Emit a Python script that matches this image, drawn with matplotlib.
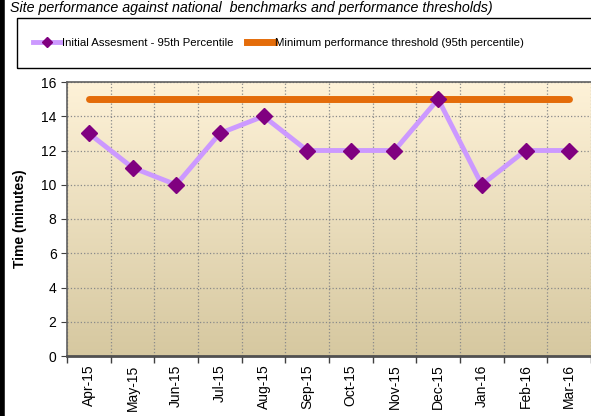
import matplotlib
matplotlib.use("Agg")
import matplotlib.pyplot as plt
import numpy as np
from matplotlib.patches import Rectangle
from matplotlib.lines import Line2D

plt.rcParams["font.family"] = ["Liberation Sans", "DejaVu Sans"]

months = ["Apr-15", "May-15", "Jun-15", "Jul-15", "Aug-15", "Sep-15",
          "Oct-15", "Nov-15", "Dec-15", "Jan-16", "Feb-16", "Mar-16"]
initial_assessment = [13, 11, 10, 13, 14, 12, 12, 12, 15, 10, 12, 12]
threshold = [15] * 12

fig = plt.figure(figsize=(5.91, 4.16), dpi=100)
ax = fig.add_axes([67 / 591, 60 / 416, 524 / 591, 274 / 416])

x = np.arange(len(months))

# gradient background
grad = np.linspace(0, 1, 256).reshape(-1, 1)
top = np.array([254, 242, 216]) / 255
bot = np.array([214, 200, 160]) / 255
img = top + (bot - top) * grad[:, :, None] * np.ones((1, 1, 3))
ax.imshow(img, extent=[-0.5, 11.5, 0, 16], aspect="auto", zorder=0, origin="upper")

ax.plot(x, threshold, color="#E46C0A", lw=5, solid_capstyle="round", zorder=3,
        label="Minimum performance threshold (95th percentile)")
ax.plot(x, initial_assessment, color="#CC99FF", lw=3.5, marker="D", markersize=8.5,
        markerfacecolor="#800080", markeredgecolor="#800080", zorder=4,
        label="Initial Assesment - 95th Percentile")

ax.set_xlim(-0.5, 11.5)
ax.set_ylim(0, 16)
ax.set_yticks(range(0, 17, 2))
ax.set_xticks(x)
ax.set_xticklabels(months, rotation=90, fontsize=10)
ax.set_xticks(np.arange(-0.5, 12, 1), minor=True)
ax.tick_params(axis="x", which="major", length=0, pad=6)
ax.tick_params(axis="x", which="minor", length=5, width=1, color="#404040")
ax.tick_params(axis="y", labelsize=10, length=4, color="#404040")
ax.grid(True, axis="y", which="major", ls=":", color="#8a8a8a", lw=0.9, zorder=1)
ax.grid(True, axis="x", which="minor", ls=":", color="#8a8a8a", lw=0.9, zorder=1)
ax.set_axisbelow(True)

for side in ["top", "left"]:
    ax.spines[side].set_color("#606060")
    ax.spines[side].set_linewidth(1.2)
ax.spines["bottom"].set_color("#505050")
ax.spines["bottom"].set_linewidth(2)
ax.spines["right"].set_visible(False)

ax.set_ylabel("Time (minutes)", fontsize=10, fontweight="bold", labelpad=10)

fig.text(10 / 591, 1 - 8 / 416,
         "Site performance against national  benchmarks and performance thresholds)",
         fontsize=10.3, style="italic", va="center", ha="left")

# legend box
fig.patches.append(Rectangle((17 / 591, 1 - 68 / 416), 580 / 591, 50 / 416,
                             transform=fig.transFigure, fill=False,
                             edgecolor="black", lw=1))
handles = [
    Line2D([], [], color="#CC99FF", lw=3.5, marker="D", markersize=5,
           markerfacecolor="#800080", markeredgecolor="#800080"),
    Line2D([], [], color="#E46C0A", lw=5),
]
fig.legend(handles, ["Initial Assesment - 95th Percentile",
                     "Minimum performance threshold (95th percentile)"],
           loc="center left", bbox_to_anchor=(23 / 591, 1 - 43 / 416), ncol=2,
           frameon=False, fontsize=8.2, handlelength=2.4, handletextpad=0.1,
           columnspacing=1.2)

# left border
fig.add_artist(Line2D([2 / 591, 2 / 591], [0, 1], transform=fig.transFigure,
                      color="black", lw=4))

fig.savefig("out.png", dpi=100)
